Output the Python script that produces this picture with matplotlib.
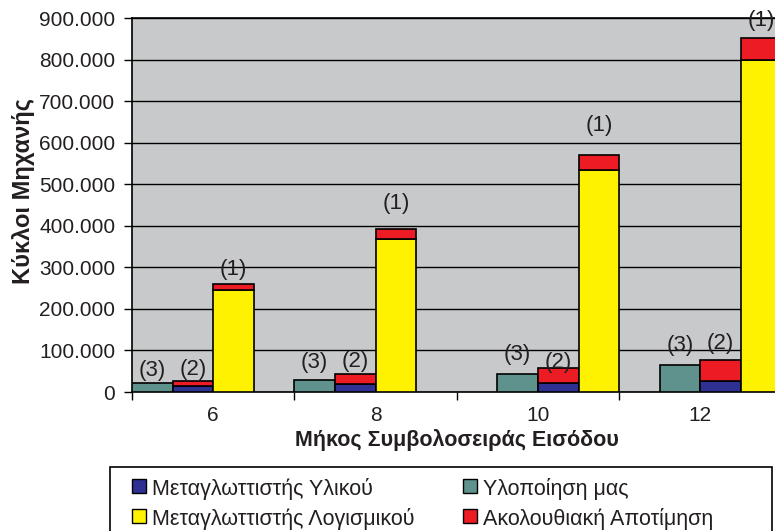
import matplotlib
matplotlib.use("Agg")
import matplotlib.pyplot as plt
from matplotlib.patches import Rectangle
from matplotlib.ticker import FuncFormatter, MultipleLocator

plt.rcParams['font.family'] = ['Liberation Sans', 'DejaVu Sans']

# Input string length (x categories)
lengths = ["6", "8", "10", "12"]

# Machine cycles per method
ours = [21000, 28000, 42500, 64000]            # Υλοποίηση μας (3)
hw_compiler = [15000, 18500, 21000, 25500]     # Μεταγλωττιστής Υλικού (2, lower part)
hw_sequential = [12000, 24000, 36000, 50500]   # Ακολουθιακή Αποτίμηση on top of (2)
sw_compiler = [245000, 367000, 533500, 798000] # Μεταγλωττιστής Λογισμικού (1, lower part)
sw_sequential = [15000, 25000, 36000, 53000]   # Ακολουθιακή Αποτίμηση on top of (1)

legend_labels = ["Μεταγλωττιστής Υλικού", "Μεταγλωττιστής Λογισμικού",
                 "Υλοποίηση μας", "Ακολουθιακή Αποτίμηση"]

C_BLUE = "#2E3192"
C_TEAL = "#5F918D"
C_YELLOW = "#FFF200"
C_RED = "#ED1C24"
C_BG = "#C8C9CB"
C_TEXT = "#231F20"

W, H = 775, 531
fig = plt.figure(figsize=(W / 100, H / 100), dpi=100)
fig.patch.set_facecolor("white")

ax_l, ax_r, ax_t, ax_b = 132, 781.6, 18, 392
ax = fig.add_axes([ax_l / W, 1 - ax_b / H, (ax_r - ax_l) / W, (ax_b - ax_t) / H])
ax.set_facecolor(C_BG)

# each category is split in four slots; the group of three bars starts at
# the first slot for the short strings and at the second for the long ones
slot_w = 0.25
first_slot = [0, 0, 1, 1]
edge = dict(edgecolor="black", linewidth=1.2)

label_off = {"(3)": [13, 18, 20, 20], "(2)": [11, 13, 6, 17], "(1)": [14, 26, 30, 18]}

for i in range(len(lengths)):
    left = i - 0.5 + first_slot[i] * slot_w
    x3 = left + 0.5 * slot_w
    x2 = left + 1.5 * slot_w
    x1 = left + 2.5 * slot_w
    ax.bar(x3, ours[i], width=slot_w, color=C_TEAL, zorder=3, **edge)
    ax.bar(x2, hw_compiler[i], width=slot_w, color=C_BLUE, zorder=3, **edge)
    ax.bar(x2, hw_sequential[i], bottom=hw_compiler[i], width=slot_w, color=C_RED, zorder=3, **edge)
    ax.bar(x1, sw_compiler[i], width=slot_w, color=C_YELLOW, zorder=3, **edge)
    ax.bar(x1, sw_sequential[i], bottom=sw_compiler[i], width=slot_w, color=C_RED, zorder=3, **edge)

    tops = {"(3)": (x3, ours[i]),
            "(2)": (x2, hw_compiler[i] + hw_sequential[i]),
            "(1)": (x1, sw_compiler[i] + sw_sequential[i])}
    for lab, (xx, yy) in tops.items():
        ax.annotate(lab, (xx, yy), xytext=(0, label_off[lab][i]), textcoords="offset pixels",
                    ha="center", va="center", fontsize=16, color=C_TEXT, zorder=4,
                    annotation_clip=False)

ax.set_xlim(-0.5, len(lengths) - 0.5)
ax.set_ylim(0, 900000)
ax.yaxis.set_major_locator(MultipleLocator(100000))
ax.yaxis.set_major_formatter(FuncFormatter(lambda v, p: f"{int(v):,}".replace(",", ".")))
ax.yaxis.grid(True, color="black", linewidth=1.0, zorder=1)
ax.set_axisbelow(True)

ax.set_xticks(range(len(lengths)))
ax.set_xticklabels(lengths)
ax.set_xticks([i - 0.5 for i in range(len(lengths) + 1)], minor=True)
ax.tick_params(axis="x", which="major", length=0, pad=10, labelsize=15, labelcolor=C_TEXT)
ax.tick_params(axis="x", which="minor", length=6, width=1, direction="out", color="black")
ax.tick_params(axis="y", length=6, width=1, direction="out", labelsize=15, pad=6,
               labelcolor=C_TEXT)

for s in ax.spines.values():
    s.set_color("black")
    s.set_linewidth(1.2)

ax.set_ylabel("Κύκλοι Μηχανής", fontsize=17, fontweight="bold", color=C_TEXT,
              va="center", ha="center")
ax.yaxis.set_label_coords((24 - ax_l) / (ax_r - ax_l), (ax_b - 191) / (ax_b - ax_t))
ax.set_xlabel("Μήκος Συμβολοσειράς Εισόδου", fontsize=15.5, fontweight="bold", labelpad=3,
              color=C_TEXT)

# legend frame and entries (two columns)
fig.patches.append(Rectangle((110 / W, -10 / H), (772 - 110) / W, (531 + 10 - 467) / H,
                             transform=fig.transFigure, facecolor="white",
                             edgecolor="black", linewidth=1.2, zorder=0))
legend_colors = [C_BLUE, C_YELLOW, C_TEAL, C_RED]
col_x = [132, 463]
row_y = [486, 516]
mk = 14
for k, (lab, col) in enumerate(zip(legend_labels, legend_colors)):
    cx = col_x[k // 2]
    cy = row_y[k % 2]
    fig.patches.append(Rectangle((cx / W, 1 - (cy + mk / 2) / H), mk / W, mk / H,
                                 transform=fig.transFigure, facecolor=col,
                                 edgecolor="black", linewidth=1.0, zorder=2))
    fig.text((cx + mk + 6) / W, 1 - cy / H, lab, ha="left", va="center_baseline",
             fontsize=15.5, color=C_TEXT)

fig.savefig("out.png", dpi=100, facecolor="white")
